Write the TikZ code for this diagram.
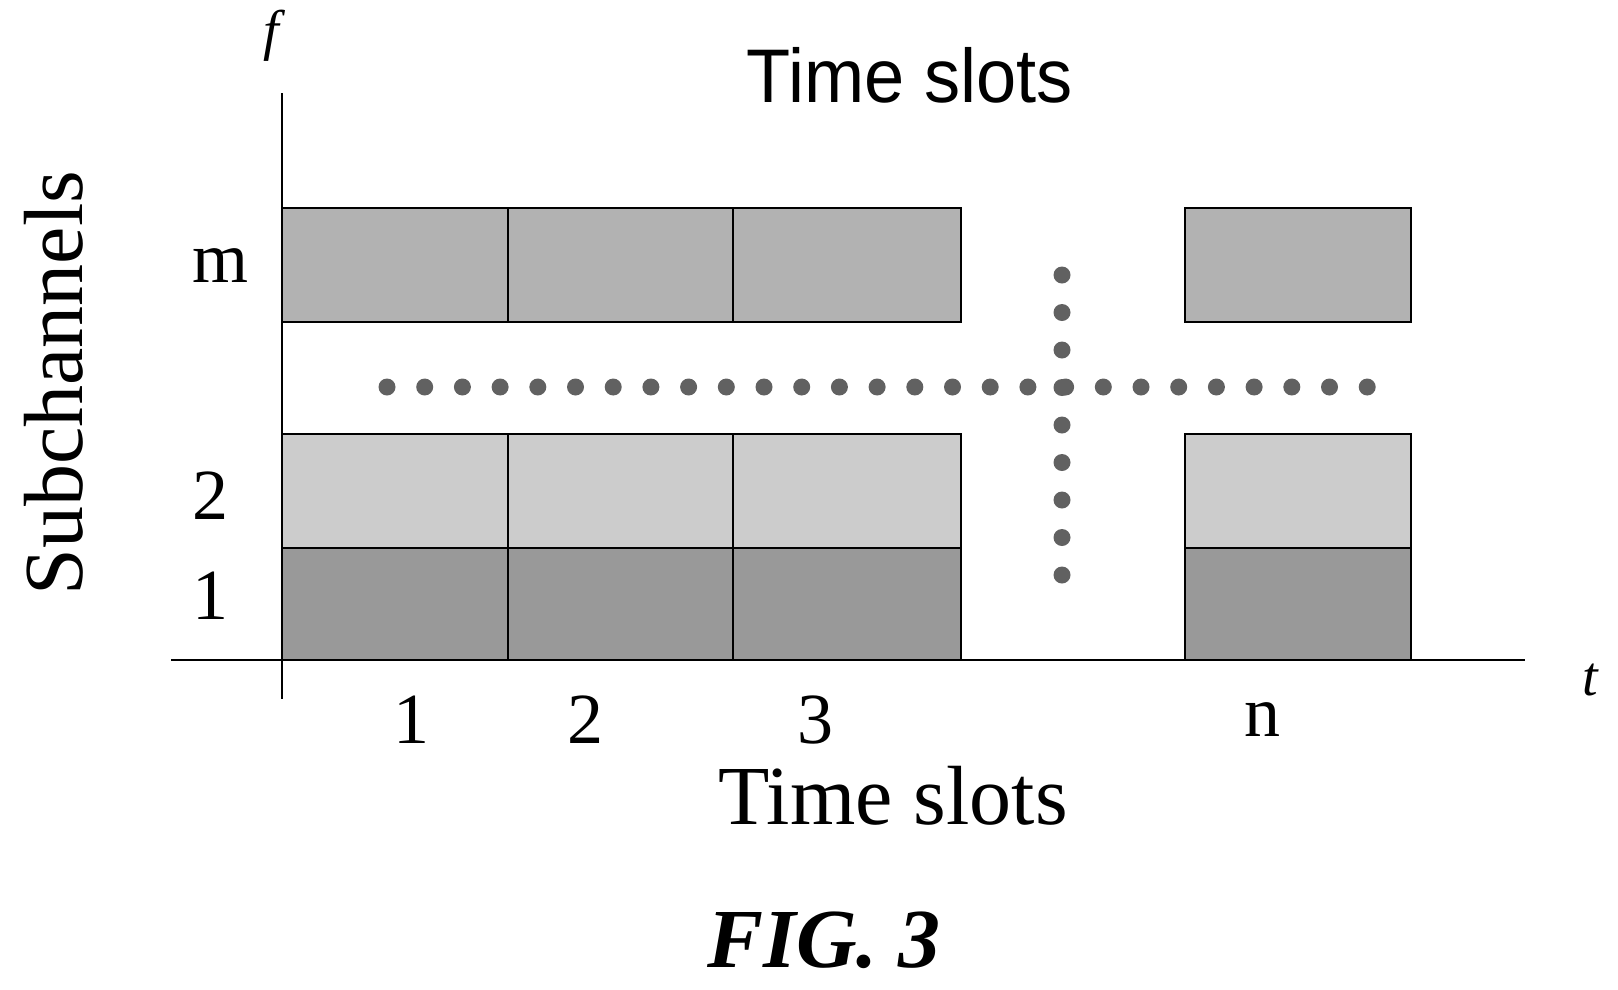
\documentclass[tikz,border=0pt]{standalone}
\usepackage{fontspec}
\setmainfont{Liberation Serif}
\newfontfamily\hsans{Liberation Sans}
\begin{document}
\begin{tikzpicture}[x=1pt,y=-1pt,
  cell/.style={draw=black,line width=1.5pt},
  rowm/.style={cell,fill=black!30},
  rowb/.style={cell,fill=black!20},
  rowa/.style={cell,fill=black!40},
  dotc/.style={circle,fill=black!62,inner sep=0pt,minimum size=17pt},
  lbl/.style={font=\fontsize{72}{80}\selectfont}]
\useasboundingbox (0,0) rectangle (1618,989);
\foreach \a/\b [count=\i] in {282/508,508/733,733/961,1185/1411}{
  \draw[rowm] (\a,208) rectangle (\b,322);
  \draw[rowb] (\a,434) rectangle (\b,548);
  \draw[rowa] (\a,548) rectangle (\b,660);
}
\coordinate (ytop) at (282,93); \coordinate (ybot) at (282,699);
\coordinate (xl) at (171,660); \coordinate (xr) at (1525,660);
\draw[line width=2pt] (ytop) -- (ybot);
\draw[line width=2pt] (xl) -- (xr);
\foreach \k in {0,...,26} \node[dotc] (h\k) at ({387+\k*37.7},387) {};
\foreach \k in {0,...,8} \node[dotc] (v\k) at (1062,{275+\k*37.5}) {};
\node[font=\hsans\fontsize{76}{80}\selectfont,xscale=0.95] (tt) at (910,75) {Time slots};
\node[font=\fontsize{84}{90}\selectfont] (tb) at (893,796) {Time slots};
\node[font=\fontsize{84}{90}\selectfont,rotate=90] (sc) at (54,383) {Subchannels};
\node[lbl] (lm) at (221,266) {m};
\node[lbl] (l2) at (210,496) {2};
\node[lbl] (l1) at (210,596) {1};
\node[lbl] (c1) at (411,720) {1};
\node[lbl] (c2) at (585,720) {2};
\node[lbl] (c3) at (815,720) {3};
\node[lbl] (cn) at (1262,720) {n};
\node[font=\itshape\fontsize{56}{60}\selectfont] (f) at (271,36) {f};
\node[font=\itshape\fontsize{56}{60}\selectfont] (t) at (1590,680) {t};
\node[font=\bfseries\itshape\fontsize{84}{90}\selectfont] (fig) at (824,940) {FIG. 3};
\end{tikzpicture}
\end{document}
